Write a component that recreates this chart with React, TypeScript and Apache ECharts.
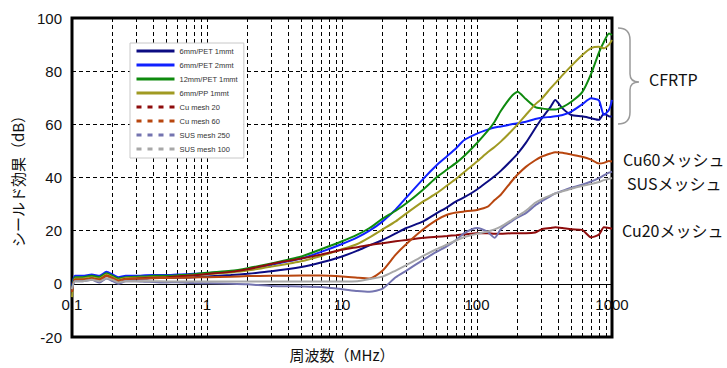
import React, { useEffect, useRef } from "react";
import * as echarts from "echarts";

// Frequency points (MHz)
const freqs = [
  0.1, 0.105, 0.12, 0.14, 0.16, 0.18, 0.2, 0.22, 0.25, 0.3, 0.35, 0.4, 0.5, 0.6, 0.7, 0.8, 1,
  1.5, 2, 3, 5, 7, 10,
  13, 16, 20, 25, 30,
  40, 50, 60, 70, 80,
  100, 120, 135, 150, 180, 200,
  230, 270, 300, 350, 380,
  430, 500, 600, 700, 800,
  870, 950, 1000,
];

const pet6mm1 = [
  -2, 2, 2, 2.5, 2, 3.5, 2.5, 1.5, 2, 2, 2, 2.2, 2.2, 2.3, 2.4, 2.5, 2.8,
  3.3, 3.8, 4.7, 6.3, 8, 10.3,
  12.5, 14.5, 16.5, 19, 21,
  23.5, 26.5, 28.8, 31, 32.5,
  35.5, 38.5, 40.5, 42.5, 46.5, 49,
  53, 58.5, 62, 66.5, 69.2,
  66, 63.5, 63, 62.3, 61.7,
  64, 63, 62.9,
];
const pet6mm2 = [
  -1, 3, 3, 3.5, 3, 4.5, 3.5, 2.5, 3, 3, 3.2, 3.3, 3.3, 3.5, 3.6, 3.8, 4,
  4.6, 5.5, 7.2, 9.5, 12, 15,
  17.5, 20, 23.5, 28, 32.5,
  39.5, 44.5, 48, 51, 54,
  56.5, 58, 58.8, 59.2, 60, 60.4,
  61, 62, 62.5, 62.8, 63,
  63.5, 64.8, 67.5, 69.8, 69,
  63.5, 65.5, 69.2,
];
const pet12mm1 = [
  -2, 2.5, 2.5, 3, 2.5, 4, 3, 2, 2.5, 2.7, 2.8, 3, 3, 3.2, 3.4, 3.6, 4.2,
  4.9, 5.9, 7.7, 10.3, 13, 16,
  18.5, 21, 24.5, 27.5, 30.3,
  35.5, 40, 43, 45.5, 48,
  53, 57.5, 61, 65, 70.5, 72.3,
  69.5, 66.5, 66, 65.6, 65.6,
  66.5, 68.5, 72, 79, 87,
  91, 94.2, 93.6,
];
const pp6mm1 = [
  -5, 2, 2, 2.5, 2, 3.5, 2.5, 1.5, 2.2, 2.3, 2.4, 2.5, 2.6, 2.8, 3, 3.2, 3.6,
  4.3, 5, 6.5, 8.5, 10.5, 13,
  15, 17.5, 20.5, 23.5, 26.5,
  31, 34, 37, 39.5, 42,
  46, 49.5, 51.5, 53.5, 57.5, 60,
  63.5, 67.5, 69.5, 73.5, 75.5,
  78.5, 82, 86, 88.7, 89.2,
  88.6, 90, 91.7,
];
const cuMesh20 = [
  -3, 1.5, 1.5, 2, 1.5, 3, 2, 1, 1.8, 2, 2.2, 2.3, 2.5, 2.8, 3, 3.2, 3.7,
  4.5, 5.5, 7.5, 9.5, 11, 12.8,
  13.8, 14.6, 15.3, 16, 16.5,
  17.3, 17.7, 18, 18.3, 18.6,
  19, 19, 18.8, 18.8, 19, 19,
  19, 19.3, 20.5, 21, 21.3,
  21, 20.5, 20.3, 17.5, 18.5,
  21.3, 21, 20.7,
];
const cuMesh60 = [
  -3, 1.5, 1.5, 2, 1.5, 3, 2, 1.2, 1.8, 2, 2, 2.1, 2.2, 2.3, 2.3, 2.4, 2.5,
  2.7, 2.9, 3, 3.1, 3.1, 2.8,
  2.3, 2, 5, 11, 15,
  20.5, 24, 26, 26.8, 27.2,
  27.8, 29, 31.5, 33.5, 38.5, 41.1,
  44, 46.5, 47.8, 49, 49.5,
  49.3, 48.6, 47.8, 46.7, 45.3,
  45.5, 46.2, 46,
];
const susMesh250 = [
  -2, 1, 1, 1.5, 0.5, 2, 1, 0, 1, 1, 0.8, 0.7, 0.5, 0.6, 0.4, 0.3, 0.2,
  0, -0.2, -0.8, -1, -1.2, -2,
  -2.7, -3, -1.8, 2.5, 5,
  9, 12, 14.2, 16.5, 19,
  21, 19.5, 17.3, 20.5, 23.5, 25,
  26.6, 29.5, 31, 33, 34,
  35, 36.2, 37.3, 38.5, 39.8,
  40.8, 41.8, 42.2,
];
const susMesh100 = [
  -2, 1, 1, 1.5, 1, 2, 1.5, 0.5, 1, 1, 1, 1, 0.9, 0.9, 0.9, 0.9, 0.9,
  0.9, 0.9, 0.9, 0.9, 0.9, 0.9,
  1, 1.8, 2.7, 5, 7,
  10.5, 13, 14.8, 16.3, 17.5,
  18.8, 19.7, 20.5, 21.5, 24, 25.5,
  27.5, 30.5, 31.8, 33.3, 34,
  34.8, 35.8, 36.8, 37.5, 38.3,
  39, 39.5, 39.8,
];

const seriesNames = [
  "6mm/PET 1mmt",
  "6mm/PET 2mmt",
  "12mm/PET 1mmt",
  "6mm/PP 1mmt",
  "Cu mesh 20",
  "Cu mesh 60",
  "SUS mesh 250",
  "SUS mesh 100",
];
const seriesValues = [pet6mm1, pet6mm2, pet12mm1, pp6mm1, cuMesh20, cuMesh60, susMesh250, susMesh100];
const seriesColors = ["#0c0c82", "#1020ff", "#0e8a0e", "#a09a22", "#8e0c0c", "#b8460f", "#7474b0", "#a8a8a8"];
const dashedLegend = [false, false, false, false, true, true, true, true];

const xTickLabels = ["0.1", "1", "10", "100", "1000"];
const gridFreqs = [
  0.2, 0.3, 0.4, 0.5, 0.6, 0.7, 0.8, 0.9, 1,
  2, 3, 4, 5, 6, 7, 8, 9, 10,
  20, 30, 40, 50, 60, 70, 80, 90, 100,
  200, 300, 400, 500, 600, 700, 800, 900,
];

const annotations = [
  { text: "CFRTP", x: 649, y: 79 },
  { text: "Cu60メッシュ", x: 623, y: 159 },
  { text: "SUSメッシュ", x: 627, y: 183 },
  { text: "Cu20メッシュ", x: 622, y: 230 },
];

const NUM_FONT = "'Liberation Sans', Arial, sans-serif";
const JP_FONT = "'Noto Sans CJK JP', sans-serif";

export default function App() {
  const ref = useRef<HTMLDivElement>(null);
  useEffect(() => {
    echarts.graphic.registerShape(
      "brace",
      echarts.graphic.extendPath(
        "M618 28 Q630 28 630 40 L630 74 Q630 82 639 82 Q630 82 630 90 L630 112 Q630 124 618 124",
        {}
      )
    );
    const chart = echarts.init(ref.current!, null, { renderer: "svg" });
    const lineSeries = seriesNames.map((name, i) => ({
      name,
      type: "line",
      symbol: "none",
      smooth: 0.2,
      z: 3,
      lineStyle: { width: 2, color: seriesColors[i] },
      itemStyle: { color: seriesColors[i] },
      data: freqs.map((f, k) => [f, seriesValues[i][k]]),
    }));
    const option: any = {
      animation: false,
      backgroundColor: "#fff",
      grid: {
        left: 72,
        right: 115,
        top: 18,
        bottom: 31,
        outerBoundsMode: "none",
        containLabel: false,
        show: true,
        borderColor: "#000",
        borderWidth: 3,
        backgroundColor: "transparent",
      },
      legend: {
        orient: "vertical",
        left: 130,
        top: 43,
        backgroundColor: "#fff",
        borderColor: "#c8c8c8",
        borderWidth: 1,
        padding: [4, 6, 5, 5],
        itemWidth: 38,
        itemHeight: 9,
        itemGap: 6,
        textStyle: { fontSize: 7.5, color: "#333", fontFamily: NUM_FONT },
        data: seriesNames.map((name, i) => ({
          name,
          itemStyle: { opacity: 0 },
          lineStyle: dashedLegend[i] ? { width: 3, type: [5, 6] } : { width: 3 },
        })),
      },
      xAxis: {
        type: "log",
        logBase: 10,
        min: 0.1,
        max: 1000,
        position: "bottom",
        axisLine: { onZero: false, show: false },
        axisTick: { show: false },
        splitLine: { show: false },
        axisLabel: {
          margin: -40,
          fontSize: 15,
          color: "#111",
          fontFamily: NUM_FONT,
          formatter: (v: number) => xTickLabels[Math.round(Math.log10(v)) + 1] ?? "",
        },
        name: "周波数（MHz）",
        nameLocation: "middle",
        nameGap: 10,
        nameTextStyle: { fontSize: 15, color: "#111", fontFamily: JP_FONT },
      },
      yAxis: {
        type: "value",
        min: -20,
        max: 100,
        interval: 20,
        axisLine: { show: false },
        axisTick: { show: false },
        splitLine: { show: true, lineStyle: { color: "#000", type: [4, 3], width: 1 } },
        axisLabel: { margin: 10, fontSize: 15, color: "#111", fontFamily: NUM_FONT },
        name: "シールド効果（dB）",
        nameLocation: "middle",
        nameRotate: 90,
        nameGap: 47,
        nameTextStyle: { fontSize: 15, color: "#111", fontFamily: JP_FONT },
      },
      series: [
        {
          name: "_grid",
          type: "line",
          data: [],
          z: 1,
          markLine: {
            silent: true,
            z: 1,
            symbol: ["none", "none"],
            label: { show: false },
            lineStyle: { color: "#000", type: [4, 3], width: 1 },
            data: [
              ...gridFreqs.map((f) => ({ xAxis: f })),
              { yAxis: 0, lineStyle: { type: "solid", color: "#000", width: 1.2 } },
            ],
          },
        },
        ...lineSeries,
      ],
      graphic: [
        {
          type: "brace",
          x: 0,
          y: 0,
          silent: true,
          style: { stroke: "#9a9a9a", lineWidth: 1.5, fill: "none" },
        },
        ...annotations.map((a) => ({
          type: "text",
          x: a.x,
          y: a.y,
          silent: true,
          style: {
            text: a.text,
            fontSize: 16,
            fontFamily: JP_FONT,
            fill: "#111",
            align: "left",
            verticalAlign: "middle",
          },
        })),
      ],
    };
    chart.setOption(option);
    return () => chart.dispose();
  }, []);
  return (
    <div
      ref={ref}
      style={{ position: "fixed", left: 0, top: 0, width: 727, height: 368, background: "#fff" }}
    />
  );
}
